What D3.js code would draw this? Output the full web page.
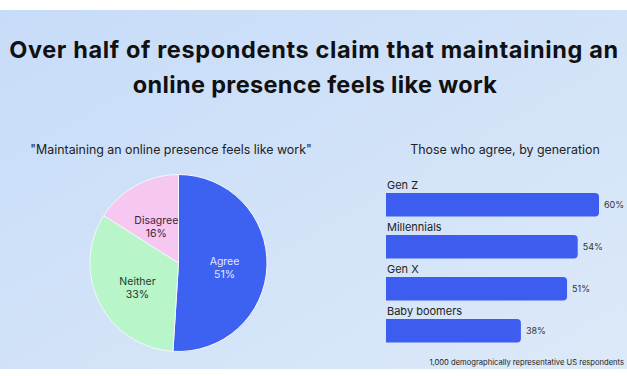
<!DOCTYPE html>
<html>
<head>
<meta charset="utf-8" />
<title>Online presence feels like work</title>
<script src="https://d3js.org/d3.v7.min.js"></script>
<style>
  body { margin: 0; background: #fff; }
  svg text { font-family: Inter, "Open Sans", sans-serif; }
</style>
</head>
<body>
<svg id="chart" width="627" height="376"></svg>
<script>
// pie data
var pieLabels = ["Agree", "Neither", "Disagree"];
var pieValues = [51, 33, 16];
var pieColors = ["#3d62f2", "#b8f5c9", "#f6c8f1"];

// bar data
var generations = ["Gen Z", "Millennials", "Gen X", "Baby boomers"];
var agreeShare = [60, 54, 51, 38];

var svg = d3.select("#chart");

// background
var defs = svg.append("defs");
var grad = defs.append("linearGradient").attr("id", "bg")
    .attr("x1", "0").attr("y1", "0").attr("x2", "1").attr("y2", "1");
grad.append("stop").attr("offset", "0").attr("stop-color", "#c7dcf8");
grad.append("stop").attr("offset", "1").attr("stop-color", "#dce9f8");

svg.append("rect").attr("x", 0).attr("y", 10).attr("width", 627).attr("height", 359)
    .attr("fill", "url(#bg)");

// title
var title = svg.append("g").attr("font-weight", 700).attr("fill", "#111")
    .attr("text-anchor", "middle").attr("font-size", 23.5);
title.append("text").attr("x", 314).attr("y", 58)
    .text("Over half of respondents claim that maintaining an");
title.append("text").attr("x", 315).attr("y", 93)
    .text("online presence feels like work");
// widen the lines a bit toward the wider original face
title.selectAll("text").each(function (d, i) {
    var w = this.getComputedTextLength();
    var target = i === 0 ? 609 : 364;
    d3.select(this).attr("letter-spacing", (target - w) / (this.textContent.length - 1));
});

// ---- pie ----
var cx = 178.5, cy = 263, r = 88.5;
svg.append("text").attr("x", 171).attr("y", 154).attr("text-anchor", "middle")
    .attr("font-size", 12.4).attr("fill", "#222")
    .text("\"Maintaining an online presence feels like work\"");

var pie = d3.pie().sort(null).value(function (d, i) { return pieValues[i]; });
var arc = d3.arc().innerRadius(0).outerRadius(r);
var arcs = pie(pieLabels);

var pg = svg.append("g").attr("transform", "translate(" + cx + "," + cy + ")");
pg.selectAll("path").data(arcs).enter().append("path")
    .attr("d", arc)
    .attr("fill", function (d, i) { return pieColors[i]; })
    .attr("stroke", "#f4f7fc").attr("stroke-width", 1);

var labelArc = d3.arc().innerRadius(r * 0.52).outerRadius(r * 0.52);
var lab = pg.selectAll("g.lab").data(arcs).enter().append("g").attr("class", "lab")
    .attr("transform", function (d) { return "translate(" + labelArc.centroid(d) + ")"; })
    .attr("text-anchor", "middle").attr("font-size", 10.5)
    .attr("fill", function (d, i) { return i === 0 ? "#e4e8ff" : (i === 1 ? "#1f3a2a" : "#3c1f3a"); });
lab.append("text").attr("y", 1).text(function (d) { return d.data; });
lab.append("text").attr("y", 14).text(function (d, i) { return pieValues[i] + "%"; });

// ---- bars ----
svg.append("text").attr("x", 505).attr("y", 154).attr("text-anchor", "middle")
    .attr("font-size", 12.4).attr("fill", "#222")
    .text("Those who agree, by generation");

var x0 = 386;
var xScale = d3.scaleLinear().domain([0, 60]).range([0, 213]);
var yScale = d3.scaleBand().domain(generations).range([176, 344]).paddingInner(0);
var barH = 23.5;

var bg = svg.append("g");
var rows = bg.selectAll("g.row").data(generations).enter().append("g").attr("class", "row")
    .attr("transform", function (d) { return "translate(" + x0 + "," + yScale(d) + ")"; });

rows.append("text").attr("x", 1).attr("y", 13).attr("font-size", 11).attr("fill", "#222")
    .text(function (d) { return d; });

rows.append("path")
    .attr("fill", "#3d5cf0")
    .attr("d", function (d, i) {
        var w = xScale(agreeShare[i]), y = 17, rr = 4;
        return "M0," + y + "H" + (w - rr) + "Q" + w + "," + y + " " + w + "," + (y + rr) +
            "V" + (y + barH - rr) + "Q" + w + "," + (y + barH) + " " + (w - rr) + "," + (y + barH) +
            "H0Z";
    });

rows.append("text")
    .attr("x", function (d, i) { return xScale(agreeShare[i]) + 5; })
    .attr("y", 17 + barH / 2 + 3.5)
    .attr("font-size", 9).attr("fill", "#333")
    .text(function (d, i) { return agreeShare[i] + "%"; });

// footnote: kept whole, ending just inside the right edge
svg.append("text").attr("x", 624).attr("y", 365).attr("text-anchor", "end")
    .attr("font-size", 7.6).attr("fill", "#222")
    .text("1,000 demographically representative US respondents");
</script>
</body>
</html>
